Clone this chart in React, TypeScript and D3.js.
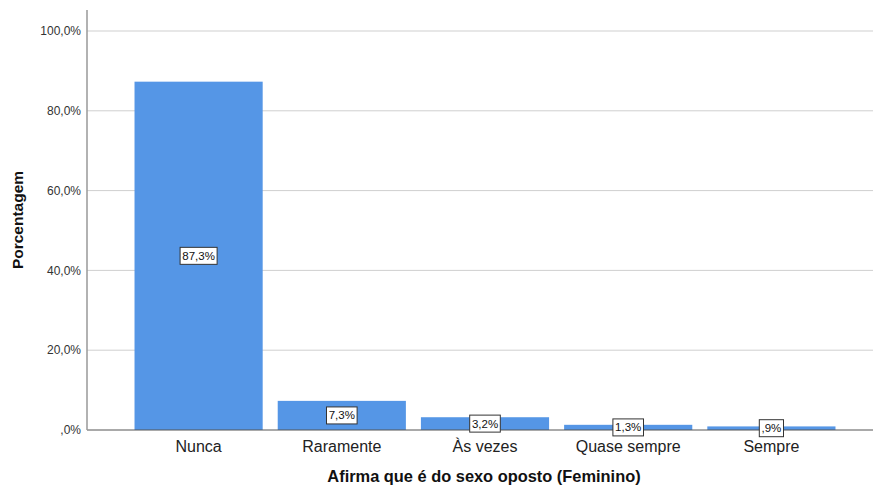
import React from "react";
import * as d3 from "d3";

const categories = ["Nunca", "Raramente", "Às vezes", "Quase sempre", "Sempre"];
const values = [87.3, 7.3, 3.2, 1.3, 0.9];
const valueLabels = ["87,3%", "7,3%", "3,2%", "1,3%", ",9%"];
const yTicks = [0, 20, 40, 60, 80, 100];
const yTickLabels = [",0%", "20,0%", "40,0%", "60,0%", "80,0%", "100,0%"];

const W = 873;
const H = 486;
const axisX = 87;
const rightX = 873;
const font = "Arial, 'Liberation Sans', sans-serif";

export default function App() {
  const y = d3.scaleLinear().domain([0, 100]).range([430, 31]);
  const x = d3
    .scaleBand<string>()
    .domain(categories)
    .range([127, 843])
    .paddingInner(0.105)
    .paddingOuter(0.0525);

  return (
    <svg
      width={W}
      height={H}
      style={{ position: "absolute", left: 0, top: 0, background: "#fff" }}
      fontFamily={font}
    >
      <rect x={0} y={0} width={W} height={H} fill="#fff" />
      {yTicks.map((t, i) => (
        <g key={t}>
          {t > 0 && (
            <line x1={axisX} x2={rightX} y1={y(t)} y2={y(t)} stroke="#cfcfcf" strokeWidth={1} />
          )}
          <text x={81} y={y(t)} dy="0.35em" textAnchor="end" fontSize={12} fill="#333">
            {yTickLabels[i]}
          </text>
        </g>
      ))}
      {categories.map((c, i) => {
        const bx = x(c)!;
        const bw = x.bandwidth();
        const top = y(values[i]);
        return (
          <g key={c}>
            <rect x={bx} y={top} width={bw} height={y(0) - top} fill="#5596e6" />
          </g>
        );
      })}
      <line x1={axisX} x2={rightX} y1={y(0)} y2={y(0)} stroke="#555" strokeWidth={1} />
      <line x1={axisX} x2={axisX} y1={10} y2={y(0)} stroke="#999" strokeWidth={1.5} />
      {categories.map((c, i) => {
        const bx = x(c)!;
        const bw = x.bandwidth();
        const top = y(values[i]);
        const mid = (top + y(0)) / 2;
        const label = valueLabels[i];
        const lw = label.length * 6.4 + 5;
        return (
          <g key={c + "-l"}>
            <rect
              x={bx + bw / 2 - lw / 2}
              y={mid - 8.5}
              width={lw}
              height={17}
              fill="#fff"
              stroke="#333"
              strokeWidth={1}
            />
            <text x={bx + bw / 2} y={mid} dy="0.35em" textAnchor="middle" fontSize={11.5} fill="#111">
              {label}
            </text>
            <text x={bx + bw / 2} y={446} dy="0.35em" textAnchor="middle" fontSize={16} fill="#222">
              {c}
            </text>
          </g>
        );
      })}
      <text x={484} y={476} dy="0.35em" textAnchor="middle" fontSize={16.4} fontWeight="bold" fill="#111">
        Afirma que é do sexo oposto (Feminino)
      </text>
      <text
        transform={`translate(18,220) rotate(-90)`}
        dy="0.35em"
        textAnchor="middle"
        fontSize={15.5}
        fontWeight="bold"
        fill="#111"
      >
        Porcentagem
      </text>
    </svg>
  );
}
